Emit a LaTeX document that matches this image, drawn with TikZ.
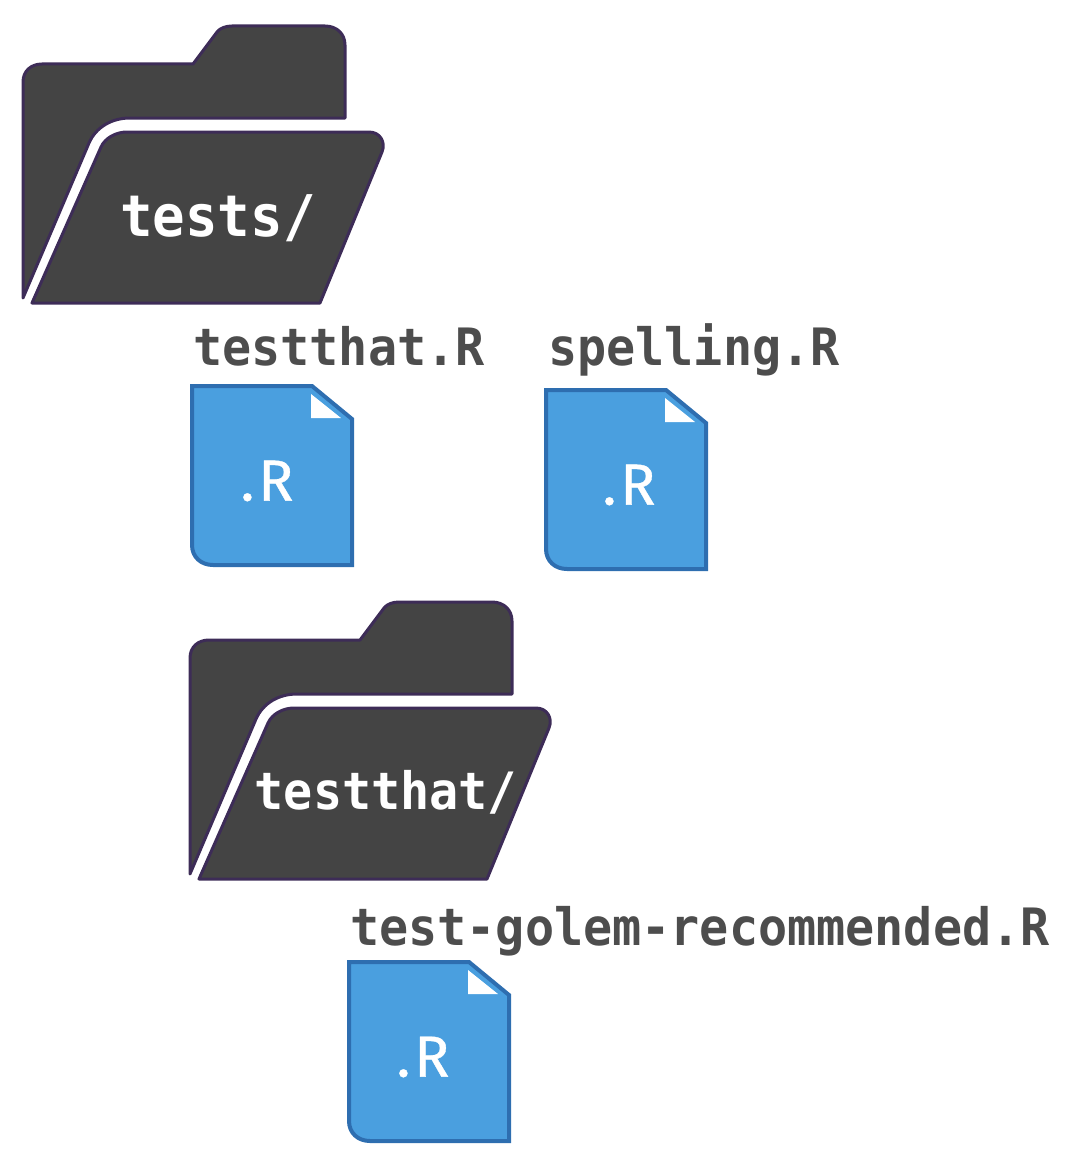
\documentclass[tikz,border=0pt]{standalone}
\usepackage{fontspec}
\usepackage{xcolor}
\newfontfamily\labelfont[FakeStretch=0.94]{DejaVu Sans Mono}
\newfontfamily\extfont[FakeBold=0.6]{Fira Sans}
\definecolor{folderfill}{HTML}{444444}
\definecolor{folderline}{HTML}{3D2C57}
\definecolor{filefill}{HTML}{4A9FDF}
\definecolor{fileline}{HTML}{2E6EB0}
\definecolor{labelgray}{HTML}{4D4D4D}
\tikzset{
    folderpart/.style={fill=folderfill,draw=folderline,line width=3pt,line join=round},
    filepart/.style={fill=filefill,draw=fileline,line width=4pt,line join=miter},
    foldname/.style={text=white,font=\labelfont\bfseries\fontsize{#1}{#1}\selectfont,inner sep=0pt},
    filename/.style={text=labelgray,font=\labelfont\bfseries\fontsize{51.5}{51.5}\selectfont,inner sep=0pt},
    fileext/.style={text=white,font=\extfont\fontsize{58}{58}\selectfont,inner sep=0pt},
    pics/folder/.style={code={
        % back of the folder
        \draw[folderpart] (23,298) -- (23,82) .. controls (23,71) and (31,64) .. (42,64) -- (193,64)
            -- (217,32) .. controls (220,28) and (226,26) .. (232,26) -- (325,26)
            .. controls (337,26) and (345,34) .. (345,45) -- (345,118) -- (130,118)
            .. controls (112,118) and (96,127) .. (89,143) -- cycle;
        % front of the folder
        \draw[folderpart] (32,303) -- (101,147) .. controls (105,138) and (116,132) .. (127,132) -- (369,132)
            .. controls (380,132) and (386,142) .. (382,152) -- (320,303) -- cycle;
    }},
    pics/rfile/.style={code={
        \draw[filepart] (192,386) -- (312,386) -- (352,419) -- (352,565) -- (213,565)
            .. controls (201,565) and (192,557) .. (192,545) -- cycle;
        % page corner
        \fill[white] (311,394) -- (311,418) -- (341,418) -- cycle;
    }}
}
\begin{document}
\begin{tikzpicture}[x=1pt,y=-1pt]
    \useasboundingbox (0,0) rectangle (1078,1164);
    \pic at (0,0) {folder};
    \pic at (167,576) {folder};
    \pic at (0,0) {rfile};
    \pic at (354,4) {rfile};
    \pic at (157,576) {rfile};
    % folder names
    \node[foldname=57.5] (tests) at (218,218) {tests/};
    \node[foldname=51.5] (testthatdir) at (386,792) {testthat/};
    % file names
    \node[filename,anchor=base west] (testthatfile) at (193,365) {testthat.R};
    \node[filename,anchor=base west] (spelling) at (548,365) {spelling.R};
    \node[filename,anchor=base west] (golem) at (350,945) {test-golem-recommended.R};
    % extension on each page
    \node[fileext] (exta) at (267,481) {.\kern4pt R};
    \node[fileext] (extb) at (629,485) {.\kern4pt R};
    \node[fileext] (extc) at (423,1057) {.\kern4pt R};
\end{tikzpicture}
\end{document}
